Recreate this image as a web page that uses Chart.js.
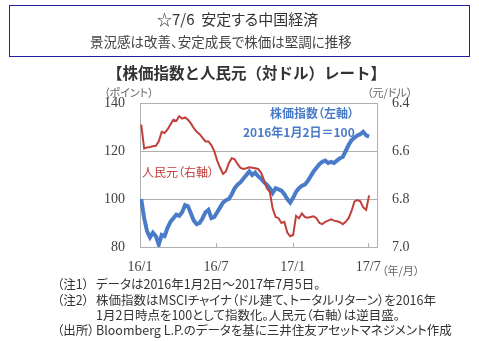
<!DOCTYPE html>
<html lang="ja">
<head>
<meta charset="utf-8">
<script src="https://cdn.jsdelivr.net/npm/chart.js@4.4.0/dist/chart.umd.min.js"></script>
<style>
  html, body { margin: 0; padding: 0; background: #fff; }
  #wrap { position: relative; width: 479px; height: 341px; overflow: hidden;
    font-family: "Noto Sans CJK JP", "Noto Sans", sans-serif; color: #333; }
  #wrap div { position: absolute; white-space: nowrap; font-feature-settings: "palt"; }
  canvas { position: absolute; left: 0; top: 0; }
  .box { left: 9px; top: 5px; width: 459px; height: 50px; border: 1.5px solid #20209a; }
  .t1 { left: 157px; top: 8px; font-size: 15px; color: #333; }
  .t2 { left: 90px; top: 31px; font-size: 13.5px; color: #444; }
  #wrap .ct { left: 107px; top: 61px; font-size: 15.5px; font-weight: bold; color: #333;
    font-feature-settings: normal; }
  .unit { font-size: 11px; color: #666; }
  .blue { color: #4a7bc8; font-size: 12px; font-weight: bold; }
  .red { color: #c0403c; font-size: 12px; }
  .note { font-size: 12.5px; color: #333; }
</style>
</head>
<body>
<div id="wrap">
  <canvas id="chart" width="479" height="341"></canvas>
  <div class="box"></div>
  <div class="t1">☆7/6&nbsp;&nbsp;安定する中国経済</div>
  <div class="t2">景況感は改善、安定成長で株価は堅調に推移</div>
  <div class="ct">【株価指数と人民元（対ドル）レート】</div>
  <div class="unit" style="left:104px;top:84px">（ポイント）</div>
  <div class="unit" style="left:367px;top:84px">（元/ドル）</div>
  <div class="unit" style="left:382px;top:262px">（年/月）</div>
  <div class="blue" style="left:270px;top:104px">株価指数（左軸）</div>
  <div class="blue" style="left:243px;top:123px">2016年1月2日＝100</div>
  <div class="red" style="left:142px;top:163px">人民元（右軸）</div>
  <div class="note" style="left:57px;top:274px">（注1）</div>
  <div class="note" style="left:96px;top:274px">データは2016年1月2日～2017年7月5日。</div>
  <div class="note" style="left:57px;top:290px">（注2）</div>
  <div class="note" style="left:96px;top:290px">株価指数はMSCIチャイナ（ドル建て、トータルリターン）を2016年</div>
  <div class="note" style="left:96px;top:305px">1月2日時点を100として指数化。人民元（右軸）は逆目盛。</div>
  <div class="note" style="left:57px;top:320px">（出所）</div>
  <div class="note" style="left:96px;top:320px">Bloomberg L.P.のデータを基に三井住友アセットマネジメント作成</div>
</div>
<script>
// weekly observations, first one on 2016-01-04
const startDate = '2016-01-04';
const stepDays = 7;

// MSCI China index (2016/1/2 = 100), left axis
const stockIndex = [
  100, 92, 86.5, 84, 86, 84.5, 81, 85, 84.5, 88,
  90.5, 92, 93.5, 93, 94.5, 97.5, 97, 94, 91, 89.5,
  90, 92, 94.5, 95.5, 92, 92.5, 94.5, 96.5, 98.5, 99.5,
  100, 102, 104.5, 106, 107, 108.5, 110, 111.5, 110, 111,
  109.5, 108.5, 107, 106, 104.5, 102.5, 104.5, 104, 103.5, 102,
  100, 98.5, 100.5, 103, 104.5, 105.5, 106, 107.5, 109.5, 111.5,
  113, 114.5, 115.5, 116, 115, 115.5, 115, 116, 117, 117.5,
  120, 122.5, 124.5, 125.5, 126.5, 127, 128, 126.5, 126
];

// CNY per USD, right axis (inverted)
const cny = [
  6.49, 6.59, 6.585, 6.583, 6.58, 6.578, 6.56, 6.52, 6.525, 6.51,
  6.49, 6.47, 6.475, 6.455, 6.465, 6.46, 6.47, 6.485, 6.505, 6.52,
  6.53, 6.545, 6.56, 6.56, 6.575, 6.6, 6.64, 6.67, 6.695, 6.685,
  6.65, 6.63, 6.635, 6.655, 6.67, 6.675, 6.672, 6.668, 6.67, 6.672,
  6.675, 6.69, 6.72, 6.755, 6.77, 6.84, 6.875, 6.88, 6.9, 6.895,
  6.94, 6.955, 6.95, 6.87, 6.88, 6.86, 6.875, 6.878, 6.875, 6.872,
  6.88, 6.9, 6.905, 6.895, 6.89, 6.885, 6.89, 6.893, 6.897, 6.905,
  6.895, 6.88, 6.85, 6.81, 6.805, 6.81, 6.835, 6.845, 6.785
];

const tickDates = ['2016-01-01', '2016-07-01', '2017-01-01', '2017-07-01'];
const tickLabels = ['16/1', '16/7', '17/1', '17/7'];

const origin = Date.UTC(2016, 0, 1);
const dayOf = s => {
  const [y, m, d] = s.split('-').map(Number);
  return Math.round((Date.UTC(y, m - 1, d) - origin) / 86400000);
};
const day0 = dayOf(startDate);
const toPoints = arr => arr.map((v, i) => ({ x: day0 + i * stepDays, y: v }));
const tickDays = tickDates.map(dayOf);

const tickFont = { family: '"Liberation Serif", "DejaVu Serif", serif', size: 14 };
const gridColor = '#b0b0b0';

// short tick marks standing up from the bottom axis
const innerTicks = {
  id: 'innerTicks',
  afterDatasetsDraw(chart) {
    const { ctx, scales: { x }, chartArea } = chart;
    ctx.save();
    ctx.strokeStyle = gridColor;
    ctx.lineWidth = 1;
    tickDays.forEach(v => {
      const px = Math.round(x.getPixelForValue(v)) + 0.5;
      ctx.beginPath();
      ctx.moveTo(px, chartArea.bottom);
      ctx.lineTo(px, chartArea.bottom - 4);
      ctx.stroke();
    });
    ctx.restore();
  }
};

new Chart(document.getElementById('chart'), {
  type: 'line',
  data: {
    datasets: [
      {
        label: '人民元（右軸）',
        data: toPoints(cny),
        yAxisID: 'y2',
        borderColor: '#c0403c',
        borderWidth: 2,
        pointRadius: 0,
        tension: 0
      },
      {
        label: '株価指数（左軸）',
        data: toPoints(stockIndex),
        yAxisID: 'y',
        borderColor: '#4a7bc8',
        borderWidth: 4,
        pointRadius: 0,
        tension: 0
      }
    ]
  },
  options: {
    responsive: false,
    animation: false,
    layout: { padding: { top: 103, bottom: 69, left: 0, right: 0 } },
    plugins: { legend: { display: false }, tooltip: { enabled: false } },
    scales: {
      x: {
        type: 'linear',
        min: 0,
        max: 568,
        afterBuildTicks: s => { s.ticks = tickDays.map(v => ({ value: v })); },
        afterFit: s => { s.height = 25; },
        ticks: {
          font: tickFont,
          color: '#404040',
          padding: 4,
          maxRotation: 0,
          callback: v => tickLabels[tickDays.indexOf(v)] ?? ''
        },
        grid: { display: false },
        border: { color: gridColor }
      },
      y: {
        position: 'left',
        min: 80,
        max: 140,
        afterFit: s => { s.width = 140; },
        ticks: { stepSize: 20, font: tickFont, color: '#404040', padding: 15 },
        grid: { color: gridColor, drawTicks: false },
        border: { color: gridColor }
      },
      y2: {
        position: 'right',
        min: 6.4,
        max: 7.0,
        reverse: true,
        afterFit: s => { s.width = 102; },
        ticks: {
          stepSize: 0.2,
          font: tickFont,
          color: '#404040',
          padding: 15,
          callback: v => Number(v).toFixed(1)
        },
        grid: { drawOnChartArea: false, drawTicks: false },
        border: { color: gridColor }
      }
    }
  },
  plugins: [innerTicks]
});
</script>
</body>
</html>
